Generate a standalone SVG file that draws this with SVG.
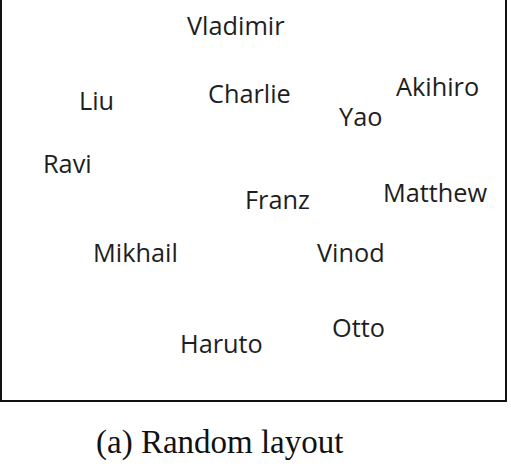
<svg xmlns="http://www.w3.org/2000/svg" width="511" height="468" viewBox="0 0 511 468">
<style>
.n{font-family:"Open Sans","Noto Sans",sans-serif;font-size:25.3px;fill:#1e1e1e}
.cap{font-family:"Liberation Serif","Times New Roman",serif;font-size:33px;fill:#111}
</style>
<rect x="0" y="0" width="511" height="468" fill="#fff"/>
<rect x="1" y="-2" width="505" height="403" fill="none" stroke="#111" stroke-width="2"/>
<g id="connectors"></g>
<g id="vladimir"><text class="n" x="187" y="35">Vladimir</text></g>
<g id="liu"><text class="n" x="79" y="110">Liu</text></g>
<g id="charlie"><text class="n" x="208" y="103">Charlie</text></g>
<g id="yao"><text class="n" x="339" y="126">Yao</text></g>
<g id="akihiro"><text class="n" x="396" y="96">Akihiro</text></g>
<g id="ravi"><text class="n" x="43" y="173">Ravi</text></g>
<g id="franz"><text class="n" x="245" y="209">Franz</text></g>
<g id="matthew"><text class="n" x="383" y="202">Matthew</text></g>
<g id="mikhail"><text class="n" x="93" y="262">Mikhail</text></g>
<g id="vinod"><text class="n" x="317" y="262">Vinod</text></g>
<g id="haruto"><text class="n" x="180" y="353">Haruto</text></g>
<g id="otto"><text class="n" x="332" y="337">Otto</text></g>
<text class="cap" x="96" y="453">(a) Random layout</text>
</svg>
